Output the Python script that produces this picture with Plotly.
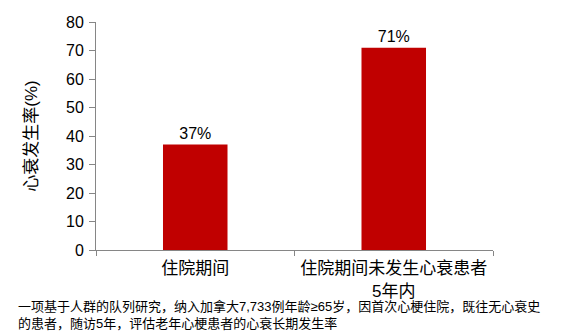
import plotly.graph_objects as go

categories = ["住院期间", "住院期间未发生心衰患者<br>5年内"]
values = [37, 71]
labels = ["37%", "71%"]
y_ticks = [0, 10, 20, 30, 40, 50, 60, 70, 80]
y_title = "心衰发生率(%)"
footnote = ("一项基于人群的队列研究，纳入加拿大7,733例年龄≥65岁，因首次心梗住院，既往无心衰史<br>"
            "的患者，随访5年，评估老年心梗患者的心衰长期发生率")

FONT = "Liberation Sans, Arial, Noto Sans CJK SC, sans-serif"

fig = go.Figure(go.Bar(
    x=categories, y=values, text=labels, textposition="outside",
    textfont=dict(size=16, color="#000000", family=FONT),
    marker=dict(color="#C00000", line=dict(width=0)),
    cliponaxis=False,
))

fig.update_layout(
    width=564, height=336,
    margin=dict(l=96, r=71, t=22, b=86),
    paper_bgcolor="white", plot_bgcolor="white",
    bargap=0.675,
    showlegend=False,
    font=dict(family=FONT, color="#000000"),
    yaxis=dict(
        range=[0, 80], tickvals=y_ticks, showgrid=False, zeroline=False,
        showline=True, linecolor="#868686", linewidth=1,
        ticks="outside", ticklen=6, tickcolor="#868686",
        ticklabelstandoff=2,
        tickfont=dict(size=16, color="#000000"),
        title=dict(text=y_title, font=dict(size=17, color="#000000"), standoff=24),
    ),
    xaxis=dict(
        showline=True, linecolor="#868686", linewidth=1,
        ticks="outside", ticklen=5, tickcolor="#868686", tickson="boundaries",
        ticklabelstandoff=3,
        tickfont=dict(size=17, color="#000000"),
        showgrid=False,
    ),
    annotations=[dict(
        text=footnote, xref="paper", yref="paper", x=-80/397, y=-0.205,
        xanchor="left", yanchor="top", showarrow=False, align="left",
        font=dict(size=13, color="#000000", family=FONT),
    )],
)

fig.write_html("out.html")
